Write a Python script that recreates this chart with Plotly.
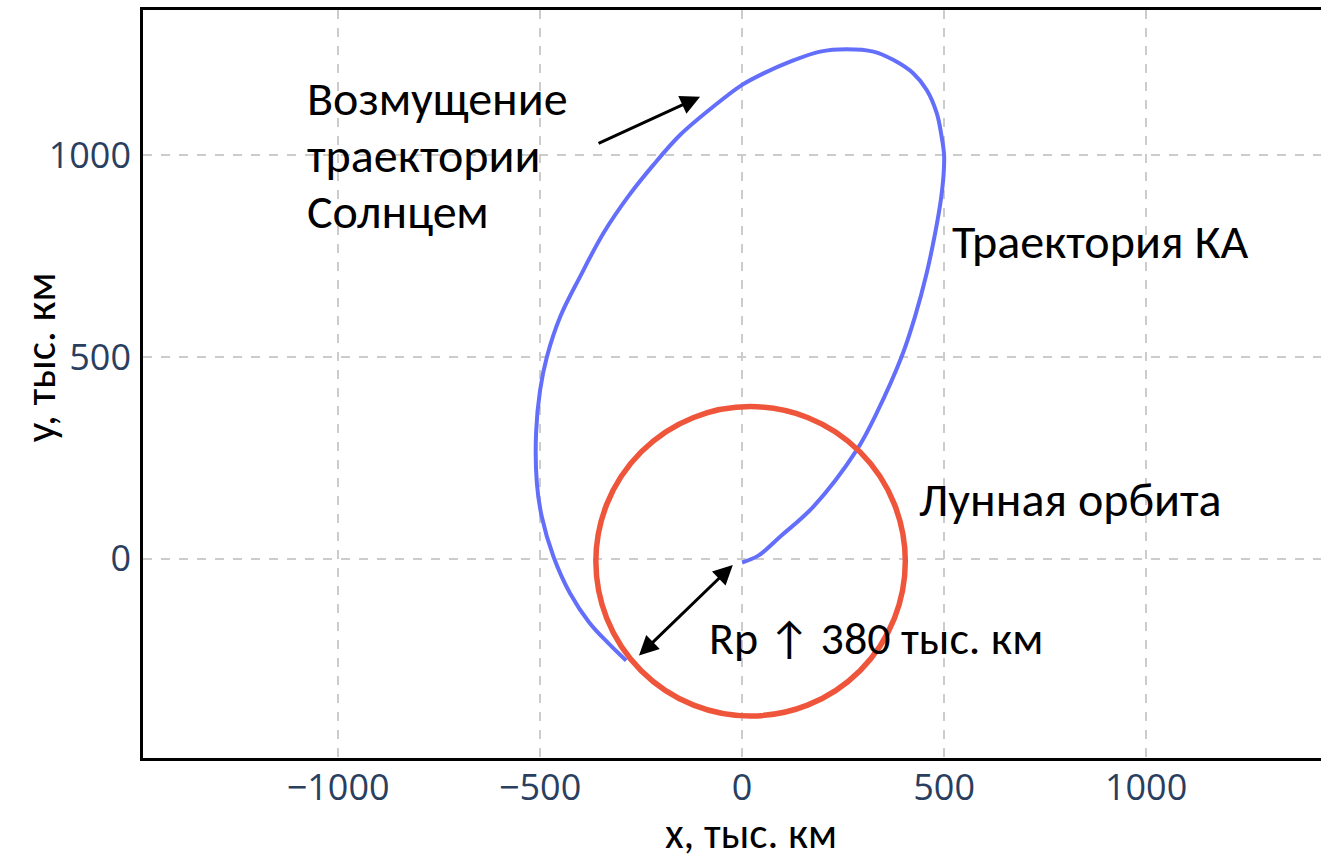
import plotly.graph_objects as go

# Spacecraft trajectory in the Earth-centred frame, thousand km
traj_x = [0, 40, 94, 176, 284, 333, 395, 428, 457, 478, 492, 499, 500, 494, 482, 457, 424,
          375, 325, 259, 193, 119, 53, -1, -71, -153, -220, -280, -343, -401, -450, -483,
          -500, -510, -508, -496, -467, -426, -378, -330, -287]
traj_y = [-9, 8, 55, 129, 270, 361, 501, 600, 708, 807, 889, 955, 1000, 1045, 1103, 1161, 1202,
          1235, 1256, 1262, 1256, 1231, 1202, 1173, 1120, 1050, 975, 900, 807, 699, 600, 501,
          418, 312, 187, 105, 6, -85, -158, -210, -252]

# Lunar orbit (centre and radius, thousand km)
moon_cx, moon_cy = 21, -6
moon_r = 383

x_ticks = [-1000, -500, 0, 500, 1000]
y_ticks = [0, 500, 1000]
x_range = [-1483, 1433]
y_range = [-493, 1359]

BLUE = "#636efa"
RED = "#EF553B"
TEXT_FONT = "Carlito, 'Liberation Sans', Arial, sans-serif"

fig = go.Figure()
fig.add_trace(go.Scatter(
    x=traj_x, y=traj_y, mode="lines",
    line=dict(color=BLUE, width=4, shape="spline", smoothing=1.0),
    hoverinfo="skip", showlegend=False,
))

fig.add_shape(
    type="circle", xref="x", yref="y",
    x0=moon_cx - moon_r, x1=moon_cx + moon_r,
    y0=moon_cy - moon_r, y1=moon_cy + moon_r,
    line=dict(color=RED, width=5.5), layer="above",
)

txt = dict(family=TEXT_FONT, size=48, color="black")
# Three-line caption, one annotation per line for tighter leading
for line, yv in zip(["Возмущение", "траектории", "Солнцем"], [1141, 1000, 859]):
    fig.add_annotation(x=-1082, y=yv, xref="x", yref="y", xanchor="left", yanchor="middle",
                       showarrow=False, font=txt, text=line)
fig.add_annotation(x=515, y=785, xref="x", yref="y", xanchor="left", yanchor="middle",
                   showarrow=False, font=txt, text="Траектория КА")
fig.add_annotation(x=433, y=146, xref="x", yref="y", xanchor="left", yanchor="middle",
                   showarrow=False, font=txt, text="Лунная орбита")
fig.add_annotation(x=-87, y=-196, xref="x", yref="y", xanchor="left", yanchor="middle",
                   showarrow=False, font=dict(family=TEXT_FONT, size=46, color="black"),
                   text="Rp ↑ 380 тыс. км")

# Arrow pointing at the perturbed part of the trajectory
fig.add_annotation(x=-104, y=1144, ax=-359, ay=1027, xref="x", yref="y", axref="x", ayref="y",
                   text="", showarrow=True, arrowhead=2, arrowsize=1.3, arrowwidth=3,
                   arrowcolor="black")
# Double-headed arrow for the pericentre distance
fig.add_annotation(x=-23, y=-15, ax=-259, ay=-243, xref="x", yref="y", axref="x", ayref="y",
                   text="", showarrow=True, arrowhead=2, startarrowhead=2, arrowside="end+start",
                   arrowsize=1.3, startarrowsize=1.3, arrowwidth=3, arrowcolor="black")

# Axis titles
title_font = dict(family=TEXT_FONT, size=43, color="black")
fig.add_annotation(x=0.516, y=-0.1016, xref="paper", yref="paper", xanchor="center",
                   yanchor="middle", showarrow=False, font=title_font, text="x, тыс. км")
fig.add_annotation(x=-0.087, y=0.535, xref="paper", yref="paper", xanchor="center",
                   yanchor="middle", showarrow=False, font=title_font, text="y, тыс. км",
                   textangle=-90)

axis_common = dict(
    showgrid=True, gridcolor="#cccccc", gridwidth=2, griddash="dash",
    zeroline=False, showline=True, linecolor="black", linewidth=2.5,
    ticks="", tickfont=dict(family="'Open Sans', sans-serif", size=36, color="#2a3f5f"),
)
fig.update_xaxes(range=x_range, tickvals=x_ticks, mirror=True, ticklabelstandoff=-4,
                 **axis_common)
fig.update_yaxes(range=y_range, tickvals=y_ticks, mirror=False, ticklabelstandoff=2,
                 **axis_common)

fig.update_layout(
    width=1321, height=858,
    margin=dict(l=143, r=0, t=10, b=100),
    plot_bgcolor="white", paper_bgcolor="white",
)

fig.write_html("out.html")
